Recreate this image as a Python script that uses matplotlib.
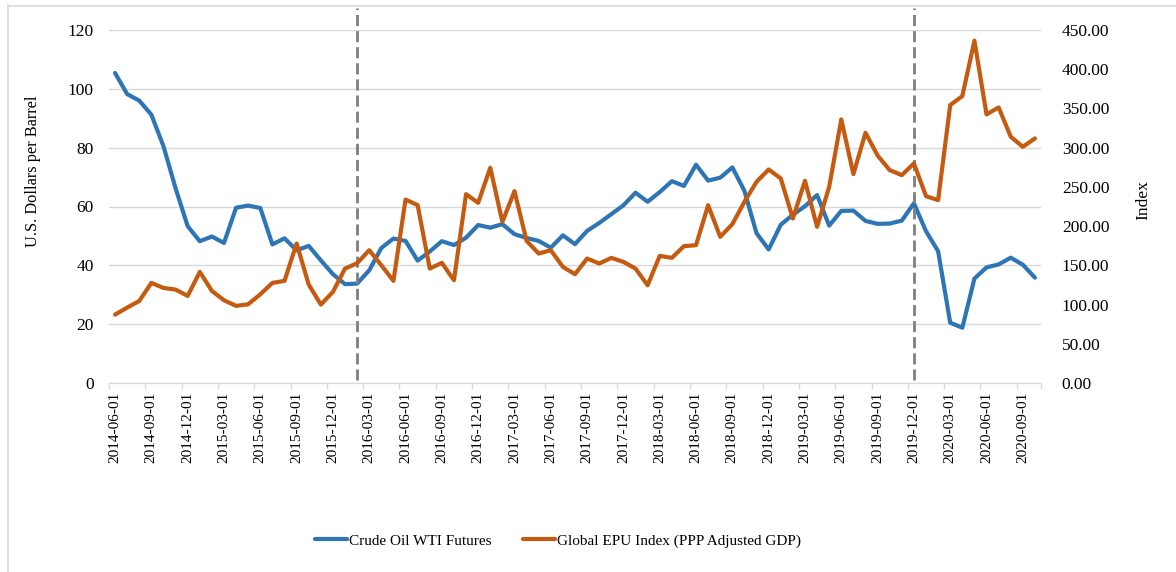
import matplotlib

matplotlib.use("Agg")
import matplotlib.pyplot as plt
import numpy as np
import pandas as pd
from matplotlib.lines import Line2D
from matplotlib.ticker import FixedLocator, FuncFormatter

plt.rcParams["font.family"] = ["Liberation Serif", "DejaVu Serif"]

# monthly observations, 2014-06 .. 2020-10
months = pd.date_range("2014-06-01", "2020-10-01", freq="MS").strftime("%Y-%m-%d").tolist()

wti_futures = [
    105.4, 98.2, 96.0, 91.2, 80.5, 66.2, 53.3,
    48.2, 49.8, 47.6, 59.6, 60.3, 59.5, 47.1, 49.2, 45.1, 46.6, 41.7, 37.0,
    33.6, 33.8, 38.3, 45.9, 49.1, 48.3, 41.6, 44.7, 48.2, 46.9, 49.4, 53.7,
    52.8, 54.0, 50.6, 49.3, 48.3, 46.0, 50.2, 47.2, 51.7, 54.4, 57.4, 60.4,
    64.7, 61.6, 64.9, 68.6, 67.0, 74.2, 68.8, 69.8, 73.3, 65.3, 50.9, 45.4,
    53.8, 57.2, 60.1, 63.9, 53.5, 58.5, 58.6, 55.1, 54.1, 54.2, 55.2, 61.1,
    51.6, 44.8, 20.5, 18.8, 35.5, 39.3, 40.3, 42.6, 40.2, 35.8,
]

global_epu = [
    87.2, 96.1, 104.6, 127.6, 121.2, 119.1, 111.0,
    141.6, 117.4, 105.5, 98.3, 100.4, 113.1, 127.6, 130.2, 177.8, 125.5, 100.0, 116.1,
    145.9, 152.7, 169.3, 150.1, 130.2, 233.9, 226.7, 145.9, 153.1, 131.0, 240.7, 229.7,
    274.4, 205.4, 244.6, 181.2, 165.0, 169.3, 148.0, 138.7, 158.7, 152.3, 159.5, 154.4,
    145.9, 124.6, 162.1, 159.5, 174.4, 175.7, 226.7, 186.3, 202.5, 231.0, 256.5, 272.2,
    260.7, 209.7, 257.8, 199.1, 250.1, 336.0, 266.3, 319.0, 290.0, 271.4, 265.0, 279.9,
    238.2, 233.1, 354.3, 365.8, 436.4, 342.4, 351.3, 313.9, 301.1, 311.8,
]

marked_months = ["2016-02-01", "2019-12-01"]

left_ticks = [0, 20, 40, 60, 80, 100, 120]
right_ticks = [0, 50, 100, 150, 200, 250, 300, 350, 400, 450]

BLUE = "#2E75B6"
ORANGE = "#C55A11"
GRID = "#D9D9D9"


def main() -> None:
    fig = plt.figure(figsize=(11.76, 5.72), dpi=100)
    ax = fig.add_axes([109 / 1176, 1 - 383 / 572, 932 / 1176, 353 / 572])
    ax2 = ax.twinx()

    x = np.arange(len(months))
    ax.plot(x, wti_futures, color=BLUE, lw=3.0, solid_capstyle="round",
            solid_joinstyle="round", zorder=3, label="Crude Oil WTI Futures")
    ax2.plot(x, global_epu, color=ORANGE, lw=3.0, solid_capstyle="round",
             solid_joinstyle="round", zorder=3, label="Global EPU Index (PPP Adjusted GDP)")

    for m in marked_months:
        ax.axvline(months.index(m), ymin=0.008, ymax=1.062, color="#7F7F7F", lw=2.0,
                   linestyle=(0, (4.0, 1.8)), clip_on=False, zorder=4)

    ax.set_xlim(-0.5, len(months) - 0.5)
    ax.set_ylim(0, 120)
    ax2.set_ylim(0, 450)

    ax.set_yticks(left_ticks)
    ax.set_yticklabels([str(t) for t in left_ticks])
    ax2.set_yticks(right_ticks)
    ax2.yaxis.set_major_formatter(FuncFormatter(lambda v, _: f"{v:.2f}"))

    ax.yaxis.grid(True, color=GRID, lw=1.0)
    ax.set_axisbelow(True)

    label_idx = list(range(0, len(months), 3))
    ax.xaxis.set_major_locator(FixedLocator(label_idx))
    ax.set_xticklabels([months[i] for i in label_idx], rotation=90, fontsize=11)
    ax.xaxis.set_minor_locator(FixedLocator([i - 0.5 for i in label_idx] + [len(months) - 0.5]))
    ax.tick_params(axis="x", which="major", length=0, pad=6)
    ax.tick_params(axis="x", which="minor", length=4, color=GRID, width=1)
    ax.tick_params(axis="y", length=0, pad=11, labelsize=12.5)
    ax2.tick_params(axis="y", length=0, pad=15, labelsize=12.5)

    for a in (ax, ax2):
        for side in ("top", "left", "right"):
            a.spines[side].set_visible(False)
        a.spines["bottom"].set_color(GRID)

    fig.text(33 / 1176, 1 - 171 / 572, "U.S. Dollars per Barrel", rotation=90,
             ha="center", va="center", fontsize=11.8)
    fig.text(1143 / 1176, 1 - 200 / 572, "Index", rotation=90,
             ha="center", va="center", fontsize=12.5)

    h1, l1 = ax.get_legend_handles_labels()
    h2, l2 = ax2.get_legend_handles_labels()
    fig.legend(h1 + h2, l1 + l2, loc="center", bbox_to_anchor=(558 / 1176, 1 - 541 / 572),
               ncol=2, frameon=False, fontsize=11, handlelength=2.1,
               handletextpad=0.1, columnspacing=2.1)

    # chart area border (cropped at right and bottom)
    fig.add_artist(Line2D([7.5 / 1176, 1], [1 - 5.5 / 572] * 2, transform=fig.transFigure,
                          color=GRID, lw=1.2))
    fig.add_artist(Line2D([7.5 / 1176] * 2, [0, 1 - 5.5 / 572], transform=fig.transFigure,
                          color=GRID, lw=1.2))

    fig.savefig("out.png", dpi=100)


if __name__ == "__main__":
    main()
